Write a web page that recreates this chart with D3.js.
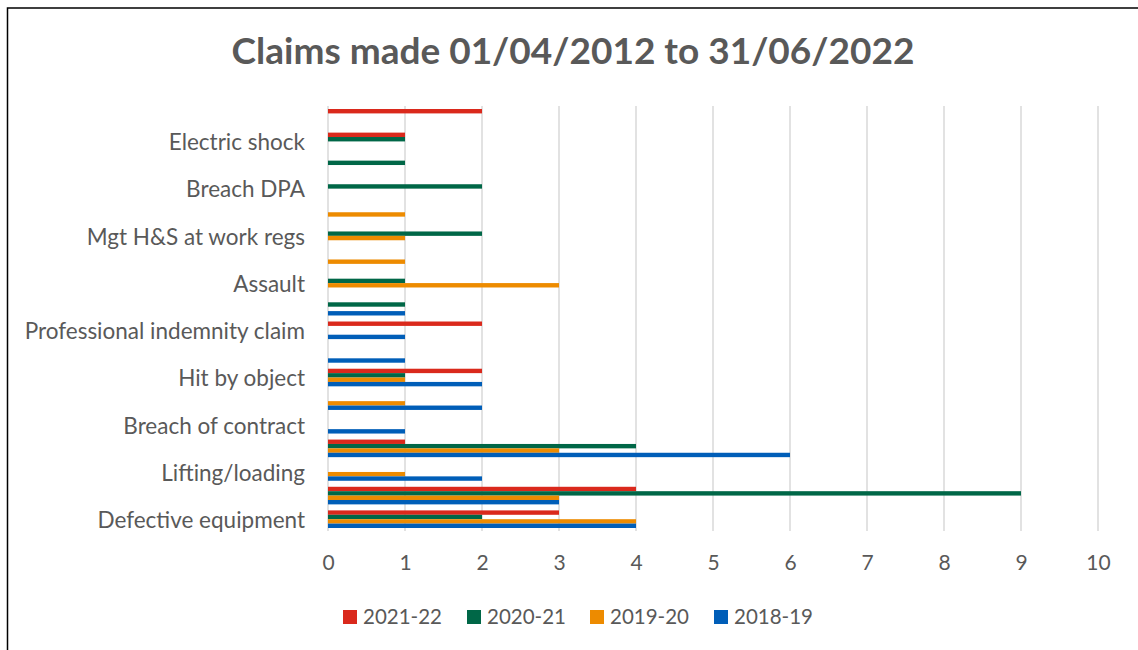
<!DOCTYPE html>
<html>
<head>
<meta charset="utf-8">
<script src="https://cdn.jsdelivr.net/npm/d3@7"></script>
<style>
  html, body { margin: 0; padding: 0; background: #fff; }
  svg { display: block; }
  text { font-family: Lato, "Open Sans", sans-serif; fill: #595959; }
</style>
</head>
<body>
<svg id="chart" width="1138" height="650"></svg>
<script>
// Categories listed from bottom to top; only every other name is shown on the axis
const categories = [
  "Defective equipment", "(unlabelled 1)", "Lifting/loading", "(unlabelled 3)",
  "Breach of contract", "(unlabelled 5)", "Hit by object", "(unlabelled 7)",
  "Professional indemnity claim", "(unlabelled 9)", "Assault", "(unlabelled 11)",
  "Mgt H&S at work regs", "(unlabelled 13)", "Breach DPA", "(unlabelled 15)",
  "Electric shock", "(unlabelled 17)"
];
const shownLabels = categories.filter((d, i) => i % 2 === 0);

const seriesNames = ["2021-22", "2020-21", "2019-20", "2018-19"];
const seriesColors = ["#DA291C", "#006747", "#ED8B00", "#005EB8"];

const values2021_22 = [3, 4, 0, 1, 0, 0, 2, 0, 2, 0, 0, 0, 0, 0, 0, 0, 1, 2];
const values2020_21 = [2, 9, 0, 4, 0, 0, 1, 0, 0, 1, 1, 0, 2, 0, 2, 1, 1, 0];
const values2019_20 = [4, 3, 1, 3, 0, 1, 1, 0, 0, 0, 3, 1, 1, 1, 0, 0, 0, 0];
const values2018_19 = [4, 3, 2, 6, 1, 2, 2, 1, 1, 1, 0, 0, 0, 0, 0, 0, 0, 0];
const seriesValues = [values2021_22, values2020_21, values2019_20, values2018_19];

const xTicks = [0, 1, 2, 3, 4, 5, 6, 7, 8, 9, 10];
const title = "Claims made 01/04/2012 to 31/06/2022";

const svg = d3.select("#chart");

// outer chart border (only top and left edges visible in the frame)
svg.append("rect")
  .attr("x", 7.5).attr("y", 8)
  .attr("width", 1200).attr("height", 700)
  .attr("fill", "none").attr("stroke", "#000").attr("stroke-width", 1.5);

const plot = { left: 328, right: 1098, top: 106, bottom: 531 };

const x = d3.scaleLinear().domain([0, 10]).range([plot.left, plot.right]);
const y0 = d3.scaleBand().domain(categories).range([plot.bottom, plot.top]).padding(0);
const gap = (y0.bandwidth() - 17.6) / 2;
const y1 = d3.scaleBand().domain(seriesNames).range([gap, y0.bandwidth() - gap]);

// gridlines
svg.append("g")
  .selectAll("line").data(xTicks).join("line")
  .attr("x1", d => x(d)).attr("x2", d => x(d))
  .attr("y1", plot.top).attr("y2", plot.bottom)
  .attr("stroke", "#D9D9D9").attr("stroke-width", 1.5);

// bars
const rows = [];
categories.forEach((c, i) => {
  seriesNames.forEach((s, j) => {
    rows.push({ cat: c, series: s, value: seriesValues[j][i], color: seriesColors[j] });
  });
});
svg.append("g")
  .selectAll("rect").data(rows.filter(d => d.value > 0)).join("rect")
  .attr("x", x(0))
  .attr("y", d => y0(d.cat) + y1(d.series))
  .attr("width", d => x(d.value) - x(0))
  .attr("height", y1.bandwidth())
  .attr("fill", d => d.color);

// x axis labels
const xAxis = d3.axisBottom(x).tickValues(xTicks).tickSize(0).tickPadding(0);
const gx = svg.append("g").attr("transform", `translate(0,${plot.bottom})`).call(xAxis);
gx.select(".domain").remove();
gx.selectAll("text")
  .attr("y", 39).attr("dy", 0)
  .style("font-size", "21px").attr("fill", "#595959");

// y axis labels
const yAxis = d3.axisLeft(y0).tickValues(shownLabels).tickSize(0).tickPadding(23);
const gy = svg.append("g").attr("transform", `translate(${plot.left},0)`).call(yAxis);
gy.select(".domain").remove();
gy.selectAll("text")
  .attr("dy", "0.39em")
  .style("font-size", "22.5px").attr("fill", "#595959");

// title
svg.append("text")
  .attr("x", 573).attr("y", 64)
  .attr("text-anchor", "middle")
  .style("font-size", "37px").style("font-weight", "bold")
  .text(title);

// legend
const legendX = [343, 467, 590, 714];
const lg = svg.append("g").selectAll("g").data(seriesNames).join("g")
  .attr("transform", (d, i) => `translate(${legendX[i]},610)`);
lg.append("rect").attr("width", 14).attr("height", 14)
  .attr("fill", (d, i) => seriesColors[i]);
lg.append("text").attr("x", 20).attr("y", 14)
  .style("font-size", "20.5px").text(d => d);
</script>
</body>
</html>
